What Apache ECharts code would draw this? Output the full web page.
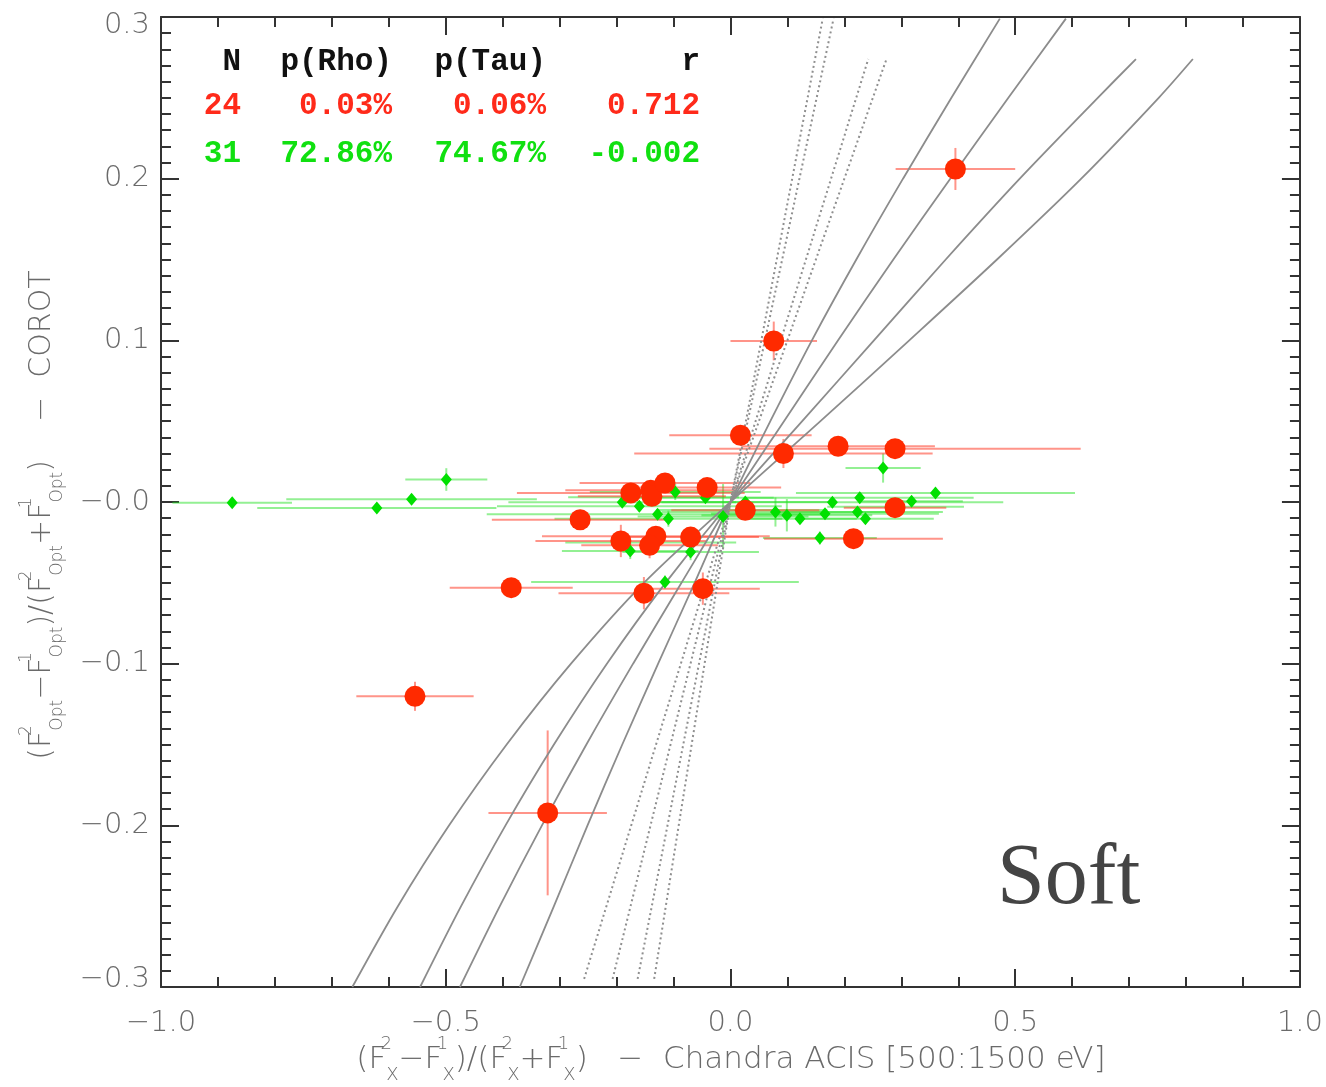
<!DOCTYPE html>
<html>
<head>
<meta charset="utf-8">
<script src="https://cdn.jsdelivr.net/npm/echarts@6/dist/echarts.min.js"></script>
<style>
html,body{margin:0;padding:0;background:#fff;}
#chart{width:1326px;height:1087px;}
</style>
</head>
<body>
<div id="chart"></div>
<script>
// ---------------- DATA ----------------
// Red sample (N=24): x, y, xerr, yerr
var redX    = [0.395, 0.076, 0.0175, 0.093, 0.189, 0.289, -0.175, -0.140, -0.138, -0.115, -0.041, -0.264, 0.026, 0.289, -0.1925, -0.131, -0.142, -0.070, 0.216, -0.152, -0.0485, -0.385, -0.554, -0.321];
var redY    = [0.206, 0.0996, 0.0413, 0.030, 0.0345, 0.033, 0.0056, 0.0072, 0.0035, 0.0118, 0.0089, -0.011, -0.0051, -0.0035, -0.0241, -0.0212, -0.0268, -0.0217, -0.0227, -0.0564, -0.0536, -0.053, -0.1202, -0.1923];
var redXErr = [0.105, 0.076, 0.125, 0.262, 0.170, 0.326, 0.200, 0.150, 0.130, 0.150, 0.130, 0.155, 0.130, 0.090, 0.150, 0.200, 0.120, 0.120, 0.157, 0.150, 0.100, 0.108, 0.103, 0.104];
var redYErr = [0.013, 0.012, 0.004, 0.009, 0.004, 0.004, 0.004, 0.004, 0.004, 0.004, 0.004, 0.004, 0.004, 0.004, 0.010, 0.004, 0.008, 0.004, 0.004, 0.010, 0.010, 0.004, 0.009, 0.051];

// Green sample (N=31): x, y, xerr, yerr
var greenX    = [-0.875, -0.621, -0.560, -0.499, -0.190, -0.160, -0.097, -0.044, -0.128, -0.109, -0.013, 0.079, 0.099, 0.122, 0.166, 0.223, 0.237, 0.179, 0.227, 0.318, 0.360, 0.268, 0.157, -0.176, -0.070, -0.115, 0.026, -0.135, 0.290, -0.140, 0.020];
var greenY    = [-0.0004, -0.0037, 0.0017, 0.0139, -0.0002, -0.0027, 0.0062, 0.0027, -0.0076, -0.0103, -0.0089, -0.0062, -0.0082, -0.0103, -0.0072, -0.0062, -0.0103, -0.0002, 0.0027, 0.0004, 0.0056, 0.021, -0.0223, -0.0303, -0.031, -0.0495, 0.0000, 0.0030, -0.0030, -0.0250, -0.0050];
var greenXErr = [0.105, 0.210, 0.220, 0.072, 0.200, 0.250, 0.150, 0.120, 0.300, 0.200, 0.150, 0.200, 0.150, 0.100, 0.200, 0.150, 0.120, 0.300, 0.200, 0.090, 0.245, 0.066, 0.100, 0.120, 0.120, 0.235, 0.150, 0.150, 0.120, 0.150, 0.150];
var greenYErr = [0.003, 0.003, 0.003, 0.007, 0.003, 0.003, 0.005, 0.003, 0.003, 0.005, 0.020, 0.009, 0.010, 0.003, 0.003, 0.003, 0.003, 0.003, 0.003, 0.003, 0.003, 0.009, 0.004, 0.005, 0.005, 0.004, 0.003, 0.003, 0.003, 0.003, 0.003];

// Model curves (solid): [x, y]
var curveA = [[-0.370,-0.300],[-0.310,-0.250],[-0.251,-0.200],[-0.190,-0.150],[-0.127,-0.100],[-0.063,-0.050],[0,0],[0.070,0.050],[0.143,0.100],[0.221,0.150],[0.303,0.200],[0.388,0.250],[0.473,0.299]];
var curveB = [[-0.475,-0.300],[-0.405,-0.250],[-0.331,-0.200],[-0.253,-0.150],[-0.171,-0.100],[-0.086,-0.050],[0,0],[0.094,0.050],[0.189,0.100],[0.286,0.150],[0.386,0.200],[0.488,0.250],[0.589,0.299]];
var curveC = [[-0.545,-0.300],[-0.473,-0.250],[-0.395,-0.200],[-0.310,-0.150],[-0.217,-0.100],[-0.114,-0.050],[0,0],[0.126,0.050],[0.252,0.100],[0.378,0.150],[0.508,0.200],[0.645,0.250],[0.712,0.274]];
var curveD = [[-0.664,-0.300],[-0.584,-0.250],[-0.494,-0.200],[-0.393,-0.150],[-0.280,-0.100],[-0.152,-0.050],[0,0],[0.158,0.050],[0.314,0.100],[0.468,0.150],[0.616,0.200],[0.752,0.250],[0.812,0.274]];
// Dotted lines
var dotA = [[-0.134,-0.295],[0,0],[0.162,0.299]];
var dotB = [[-0.163,-0.295],[0,0],[0.181,0.299]];
var dotC = [[-0.207,-0.295],[0,0],[0.242,0.274]];
var dotD = [[-0.257,-0.295],[0,0],[0.274,0.274]];

// Tick labels
var xTickValues = [-1.0, -0.5, 0.0, 0.5, 1.0];
var xTickLabels = ['\u22121.0', '\u22120.5', '0.0', '0.5', '1.0'];
var yTickValues = [0.3, 0.2, 0.1, 0.0, -0.1, -0.2, -0.3];
var yTickLabels = ['0.3', '0.2', '0.1', '\u22120.0', '\u22120.1', '\u22120.2', '\u22120.3'];

// Statistics table
var statHeader = ['N', 'p(Rho)', 'p(Tau)', 'r'];
var redStats   = ['24', '0.03%', '0.06%', '0.712'];
var greenStats = ['31', '72.86%', '74.67%', '-0.002'];
var panelLabel = 'Soft';

// ---------------- STYLE ----------------
var RED = '#ff2a00', GREEN = '#00e000';
var RED_BAR = 'rgba(255,60,40,0.55)', GREEN_BAR = 'rgba(40,225,40,0.5)';
var AXIS = '#333';
var LABEL_COL = '#6a6a6a';
var G = {left:161, right:23, top:17, bottom:100};

function lookup(vals, labs, v){
  for (var i=0;i<vals.length;i++){ if (Math.abs(vals[i]-v) < 1e-6) return labs[i]; }
  return '';
}

function toPoints(xs, ys, xe, ye){
  var out = [];
  for (var i=0;i<xs.length;i++) out.push([xs[i], ys[i], xe[i], ye[i]]);
  return out;
}
var redData = toPoints(redX, redY, redXErr, redYErr);
var greenData = toPoints(greenX, greenY, greenXErr, greenYErr);

function errRender(color){
  return function(params, api){
    var x = api.value(0), y = api.value(1), ex = api.value(2), ey = api.value(3);
    var l = api.coord([x-ex, y]), r = api.coord([x+ex, y]);
    var t = api.coord([x, y+ey]), b = api.coord([x, y-ey]);
    var st = {stroke: color, lineWidth: 2};
    return {type:'group', children:[
      {type:'line', shape:{x1:l[0], y1:l[1], x2:r[0], y2:r[1]}, style:st},
      {type:'line', shape:{x1:t[0], y1:t[1], x2:b[0], y2:b[1]}, style:st}
    ]};
  };
}

function curveSeries(data, dotted){
  return {
    type:'line', data:data, showSymbol:false, symbol:'none', smooth: dotted ? false : 0.3,
    silent:true, z:3, clip:true,
    lineStyle:{color: dotted ? '#8f8f8f' : '#8c8c8c', width: dotted ? 2 : 1.8, type: dotted ? [2,3] : 'solid'}
  };
}

var chart = echarts.init(document.getElementById('chart'), null, {renderer:'canvas'});

var labelFont = {color: LABEL_COL, fontFamily: '"DejaVu Sans"', fontSize: 29, fontWeight: 200};

var statElems = [];
var colsX = [241, 392, 546, 700];
function addRow(arr, y, color){
  for (var i=0;i<arr.length;i++){
    statElems.push({type:'text', x: colsX[i], y: y, z: 100, style:{
      text: arr[i], fill: color, font: 'bold 31px "Liberation Mono"',
      align:'right', verticalAlign:'middle', textAlign:'right', textVerticalAlign:'middle'
    }});
  }
}
addRow(statHeader, 62, '#111');
addRow(redStats, 106, '#ff2a1a');
addRow(greenStats, 154, '#10e010');

function titleRich(fs, ss){
  return {
    n:{fontFamily:'"DejaVu Sans"', fontSize:fs, fontWeight:200, fill:LABEL_COL, color:LABEL_COL, lineHeight:fs*1.6, verticalAlign:'middle'},
    sp:{fontFamily:'"DejaVu Sans"', fontSize:ss, fontWeight:200, fill:LABEL_COL, color:LABEL_COL, width:0, align:'left', verticalAlign:'top', lineHeight:ss*0.8},
    sb:{fontFamily:'"DejaVu Sans"', fontSize:ss, fontWeight:200, fill:LABEL_COL, color:LABEL_COL, verticalAlign:'bottom', lineHeight:ss*0.8}
  };
}

var xTitle = '{n|(F}{sp|2}{sb|X}{n|\u2212F}{sp|1}{sb|X}{n|)/(F}{sp|2}{sb|X}{n|+F}{sp|1}{sb|X}{n|)   \u2212  Chandra ACIS [500:1500 eV]}';
var yTitle = '{n|(F}{sp|2}{sb|Opt}{n|\u2212F}{sp|1}{sb|Opt}{n|)/(F}{sp|2}{sb|Opt}{n|+F}{sp|1}{sb|Opt}{n|)    \u2212  COROT}';

var graphics = statElems.concat([
  {type:'text', x: 997, y: 837, z:100, style:{text: panelLabel, fill:'#444', font:'86px "Liberation Serif"', align:'left', verticalAlign:'top', textAlign:'left', textVerticalAlign:'top'}},
  {type:'text', x: 731, y: 1060, z:100, style:{text: xTitle, rich: titleRich(31, 18), align:'center', verticalAlign:'middle', textAlign:'center', textVerticalAlign:'middle'}},
  {type:'text', x: 42, y: 515, rotation: Math.PI/2, z:100, style:{text: yTitle, rich: titleRich(30, 17), align:'center', verticalAlign:'middle', textAlign:'center', textVerticalAlign:'middle'}}
]);

function yFormatter(v){
  var s = lookup(yTickValues, yTickLabels, v);
  if (Math.abs(v-0.3) < 1e-6) return '{tp|' + s + '}';
  if (Math.abs(v+0.3) < 1e-6) return '{bt|' + s + '}';
  return s;
}

var option = {
  backgroundColor:'#fff',
  animation:false,
  grid: G,
  xAxis: [
    {type:'value', min:-1, max:1, interval:0.5, position:'bottom',
     axisLine:{show:true, onZero:false, lineStyle:{color:AXIS, width:2}},
     axisTick:{show:true, inside:true, length:18, lineStyle:{color:AXIS, width:2}},
     minorTick:{show:true, splitNumber:5, length:10, lineStyle:{color:AXIS, width:2}},
     splitLine:{show:false},
     axisLabel:Object.assign({margin:22, formatter:function(v){return lookup(xTickValues, xTickLabels, v);}}, labelFont)},
    {type:'value', min:-1, max:1, interval:0.5, position:'top',
     axisLine:{show:true, onZero:false, lineStyle:{color:AXIS, width:2}},
     axisTick:{show:true, inside:true, length:18, lineStyle:{color:AXIS, width:2}},
     minorTick:{show:true, splitNumber:5, length:10, lineStyle:{color:AXIS, width:2}},
     splitLine:{show:false}, axisLabel:{show:false}}
  ],
  yAxis: [
    {type:'value', min:-0.3, max:0.3, interval:0.1, position:'left',
     axisLine:{show:true, onZero:false, lineStyle:{color:AXIS, width:2}},
     axisTick:{show:true, inside:true, length:18, lineStyle:{color:AXIS, width:2}},
     minorTick:{show:true, splitNumber:10, length:10, lineStyle:{color:AXIS, width:2}},
     splitLine:{show:false},
     axisLabel:Object.assign({margin:11, formatter:yFormatter,
       rich:{tp:{padding:[16,0,0,0], color:LABEL_COL, fontFamily:'"DejaVu Sans"', fontSize:29, fontWeight:200},
             bt:{padding:[0,0,16,0], color:LABEL_COL, fontFamily:'"DejaVu Sans"', fontSize:29, fontWeight:200}}}, labelFont)},
    {type:'value', min:-0.3, max:0.3, interval:0.1, position:'right',
     axisLine:{show:true, onZero:false, lineStyle:{color:AXIS, width:2}},
     axisTick:{show:true, inside:true, length:18, lineStyle:{color:AXIS, width:2}},
     minorTick:{show:true, splitNumber:10, length:10, lineStyle:{color:AXIS, width:2}},
     splitLine:{show:false}, axisLabel:{show:false}}
  ],
  series: [
    {type:'custom', name:'greenErr', data:greenData, renderItem: errRender(GREEN_BAR), z:1, silent:true, clip:true},
    {type:'custom', name:'redErr', data:redData, renderItem: errRender(RED_BAR), z:1, silent:true, clip:true},
    curveSeries(curveA,false), curveSeries(curveB,false), curveSeries(curveC,false), curveSeries(curveD,false),
    curveSeries(dotA,true), curveSeries(dotB,true), curveSeries(dotC,true), curveSeries(dotD,true),
    {type:'scatter', name:'green', data:greenData, symbol:'diamond', symbolSize:[11,13], z:5, silent:true,
     itemStyle:{color:GREEN, opacity:1}},
    {type:'scatter', name:'red', data:redData, symbol:'circle', symbolSize:21, z:6, silent:true,
     itemStyle:{color:RED, opacity:1}}
  ],
  graphic: graphics
};
chart.setOption(option);
</script>
</body>
</html>
